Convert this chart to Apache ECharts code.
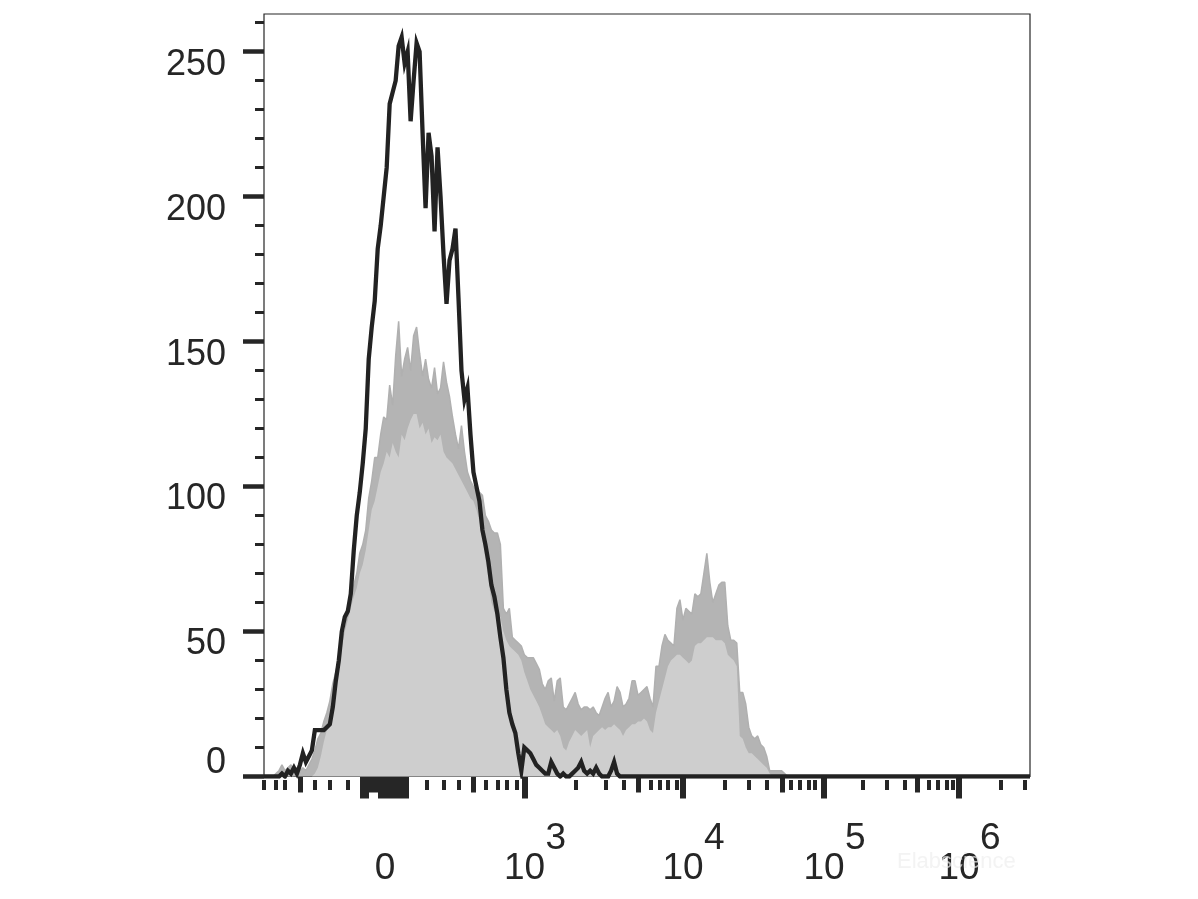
<!DOCTYPE html>
<html><head><meta charset="utf-8">
<script src="https://cdn.jsdelivr.net/npm/echarts@6/dist/echarts.min.js"></script>
<style>html,body{margin:0;padding:0;background:#fff}#c{width:1198px;height:899px}</style>
</head><body><div id="c"></div>
<script>
// Histogram counts per display channel (0..256)
const blackCounts = [
0,0,0,0,0,0,1,0,2,1,
3,1,4,8,5,7,9,16,16,16,
16,17,18,24,33,40,50,55,57,63,
78,90,98,108,120,144,155,164,182,190,
200,210,232,236,240,252,255,246,250,226,
240,253,250,222,196,222,214,188,217,200,
180,163,178,182,189,165,140,130,134,118,
105,100,95,85,80,74,66,62,56,48,
41,30,22,18,15,8,2,10,9,8,
6,4,3,2,1,1,5,3,1,0,
1,0,0,1,2,3,5,2,1,2,
1,3,1,0,0,0,2,5,1,0,
0,0,0,0,0,0,0,0,0,0,
0,0,0,0,0,0,0,0,0,0,
0,0,0,0,0,0,0,0,0,0,
0,0,0,0,0,0,0,0,0,0,
0,0,0,0,0,0,0,0,0,0,
0,0,0,0,0,0,0,0,0,0,
0,0,0,0,0,0,0,0,0,0,
0,0,0,0,0,0,0,0,0,0,
0,0,0,0,0,0,0,0,0,0,
0,0,0,0,0,0,0,0,0,0,
0,0,0,0,0,0,0,0,0,0,
0,0,0,0,0,0,0,0,0,0,
0,0,0,0,0,0,0,0,0,0,
0,0,0,0,0,0,0
];
const grayUpper = [
0,0,0,0,1,2,4,2,3,4,
2,3,2,3,2,4,6,9,13,15,
19,22,26,32,36,41,47,50,56,60,
66,70,77,80,85,96,102,110,110,118,
124,123,135,128,145,157,138,144,148,140,
152,155,146,138,144,137,134,141,132,134,
143,136,131,124,118,113,121,112,105,102,
100,98,98,97,90,88,85,84,84,80,
58,56,58,48,47,46,45,42,41,41,
41,39,37,32,30,33,34,26,33,34,
24,23,25,27,29,25,23,24,24,23,
24,22,21,24,27,29,24,26,31,29,
24,25,27,33,33,28,29,30,31,27,
24,38,38,45,49,47,46,45,58,61,
54,58,57,56,63,62,63,70,77,67,
60,63,66,67,67,52,47,47,46,29,
29,25,17,14,13,14,11,10,7,2,
2,2,2,2,1,0,0,0,0,0,
0,0,0,0,0,0,0,0,0,0,
0,0,0,0,0,0,0,0,0,0,
0,0,0,0,0,0,0,0,0,0,
0,0,0,0,0,0,0,0,0,0,
0,0,0,0,0,0,0,0,0,0,
0,0,0,0,0,0,0,0,0,0,
0,0,0,0,0,0,0,0,0,0,
0,0,0,0,0,0,0
];
const grayLower = [
0,0,0,0,0,0,0,0,0,1,
0,0,0,0,0,0,0,1,3,7,
12,16,20,25,30,36,44,50,54,58,
62,65,70,73,78,85,92,95,100,105,
108,112,110,115,112,110,118,116,120,123,
125,125,120,122,118,120,115,117,116,118,
112,110,109,108,106,104,102,100,98,96,
95,92,88,82,75,68,60,57,56,55,
50,47,45,44,43,42,40,36,33,30,
28,26,24,21,18,17,16,15,16,14,
10,9,12,14,16,15,14,15,16,10,
14,15,16,17,16,17,17,18,17,16,
14,16,17,18,18,19,19,20,19,16,
15,22,26,30,34,38,40,41,42,42,
41,40,39,40,45,46,46,47,48,48,
48,47,47,47,46,42,41,40,38,14,
13,10,8,8,7,6,5,4,3,1,
0,0,0,0,0,0,0,0,0,0,
0,0,0,0,0,0,0,0,0,0,
0,0,0,0,0,0,0,0,0,0,
0,0,0,0,0,0,0,0,0,0,
0,0,0,0,0,0,0,0,0,0,
0,0,0,0,0,0,0,0,0,0,
0,0,0,0,0,0,0,0,0,0,
0,0,0,0,0,0,0,0,0,0,
0,0,0,0,0,0,0
];

// Y axis ticks / labels
const yMajorTicks = [0,50,100,150,200,250];
const yMinorTicks = [10,20,30,40,60,70,80,90,110,120,130,140,160,170,180,190,210,220,230,240,260];
const yLabelVals = [50,100,150,200,250];
const yZeroLabel = [0];

// X axis (biexponential display, in channel units) ticks / labels
const xLongTicks = [33.09,34.09,39.10,40.44,41.11,42.11,43.11,44.12,45.12,46.46,47.46,87.07,140.04,187.17,232.29];
const xMediumTicks = [12.03,35.09,36.10,37.10,38.10,45.79,69.85,125.00,173.13,218.25];
const xShortTicks = [0,4.01,7.02,17.05,22.06,28.07,54.48,60.16,65.17,74.2,78.21,81.22,84.56,
  104.28,114.3,120.32,129.34,132.35,135.03,138.04,154.08,162.1,168.11,176.14,179.14,182.15,184.16,
  200.2,208.22,214.24,222.26,225.27,228.27,230.28,246.32,254.34];
const xLabelPos = [40.44,87.07,140.04,187.17,232.29];
const xLabelBase = ['0','10','10','10','10'];
const xLabelExp = ['','3','4','5','6'];

const FONT = '"Liberation Sans", Arial, Helvetica, sans-serif';
const INK = '#262626';
const idx = v => xLabelPos.findIndex(p => Math.abs(p - v) < 1e-6);

function xAx(extra) {
  return Object.assign({
    type: 'value', min: 0, max: 256, position: 'bottom', gridIndex: 0,
    axisLine: {show: false}, splitLine: {show: false},
    axisTick: {show: false}, axisLabel: {show: false}
  }, extra);
}
function yAx(extra) {
  return Object.assign({
    type: 'value', min: 0, max: 263, position: 'left', gridIndex: 0,
    axisLine: {show: false}, splitLine: {show: false},
    axisTick: {show: false}, axisLabel: {show: false}
  }, extra);
}

const chart = echarts.init(document.getElementById('c'), null, {renderer: 'canvas'});
chart.setOption({
  animation: false,
  backgroundColor: '#fff',
  grid: {left: 264, right: 168, top: 14, bottom: 122.5, show: true,
         borderColor: INK, borderWidth: 1.2, backgroundColor: 'transparent',
         outerBoundsMode: 'none'},
  xAxis: [
    xAx({offset: 3.5, axisTick: {show: true, customValues: xLongTicks, length: 22, lineStyle: {color: INK, width: 6}}}),
    xAx({offset: 3.5, axisTick: {show: true, customValues: xMediumTicks, length: 16, lineStyle: {color: INK, width: 5}}}),
    xAx({offset: 3.5, axisTick: {show: true, customValues: xShortTicks, length: 10, lineStyle: {color: INK, width: 4}}}),
    xAx({offset: 0, axisLabel: {show: true, customValues: xLabelPos, margin: 78,
        formatter: v => xLabelBase[idx(v)], fontSize: 37, lineHeight: 28, color: INK, fontFamily: FONT}}),
    xAx({offset: 0, axisLabel: {show: true, customValues: xLabelPos, margin: 48, align: 'left',
        padding: [0, 0, 0, 21],
        formatter: v => xLabelExp[idx(v)], fontSize: 37, lineHeight: 28, color: INK, fontFamily: FONT}})
  ],
  yAxis: [
    yAx({axisTick: {show: true, customValues: yMajorTicks, length: 21, lineStyle: {color: INK, width: 4.5}},
         axisLabel: {show: true, customValues: yLabelVals, margin: 38, verticalAlign: 'top', lineHeight: 26,
                     fontSize: 36, color: INK, fontFamily: FONT}}),
    yAx({axisTick: {show: true, customValues: yMinorTicks, length: 9, lineStyle: {color: INK, width: 3}},
         axisLabel: {show: true, customValues: yZeroLabel, margin: 38, verticalAlign: 'bottom', lineHeight: 26,
                     fontSize: 36, color: INK, fontFamily: FONT}})
  ],
  series: [
    {type: 'line', xAxisIndex: 0, yAxisIndex: 0, data: grayUpper.map((v, i) => [i, v]),
     symbol: 'none', showSymbol: false, silent: true, z: 2,
     lineStyle: {color: '#b0b0b0', width: 1.5}, areaStyle: {color: '#b4b4b4', opacity: 1}},
    {type: 'line', xAxisIndex: 0, yAxisIndex: 0, data: grayLower.map((v, i) => [i, v]),
     symbol: 'none', showSymbol: false, silent: true, z: 3,
     lineStyle: {width: 0}, areaStyle: {color: '#cecece', opacity: 1}},
    {type: 'line', xAxisIndex: 0, yAxisIndex: 0, data: blackCounts.map((v, i) => [i, v]),
     symbol: 'none', showSymbol: false, silent: true, z: 4,
     lineStyle: {color: '#222222', width: 4.3, join: 'miter'}}
  ],
  graphic: [
    {type: 'text', left: 897, top: 851, z: 100, silent: true,
     style: {text: 'Elabscience', font: '22px ' + FONT, fill: 'rgba(238,238,238,0.7)'}}
  ]
});
</script>
</body></html>
